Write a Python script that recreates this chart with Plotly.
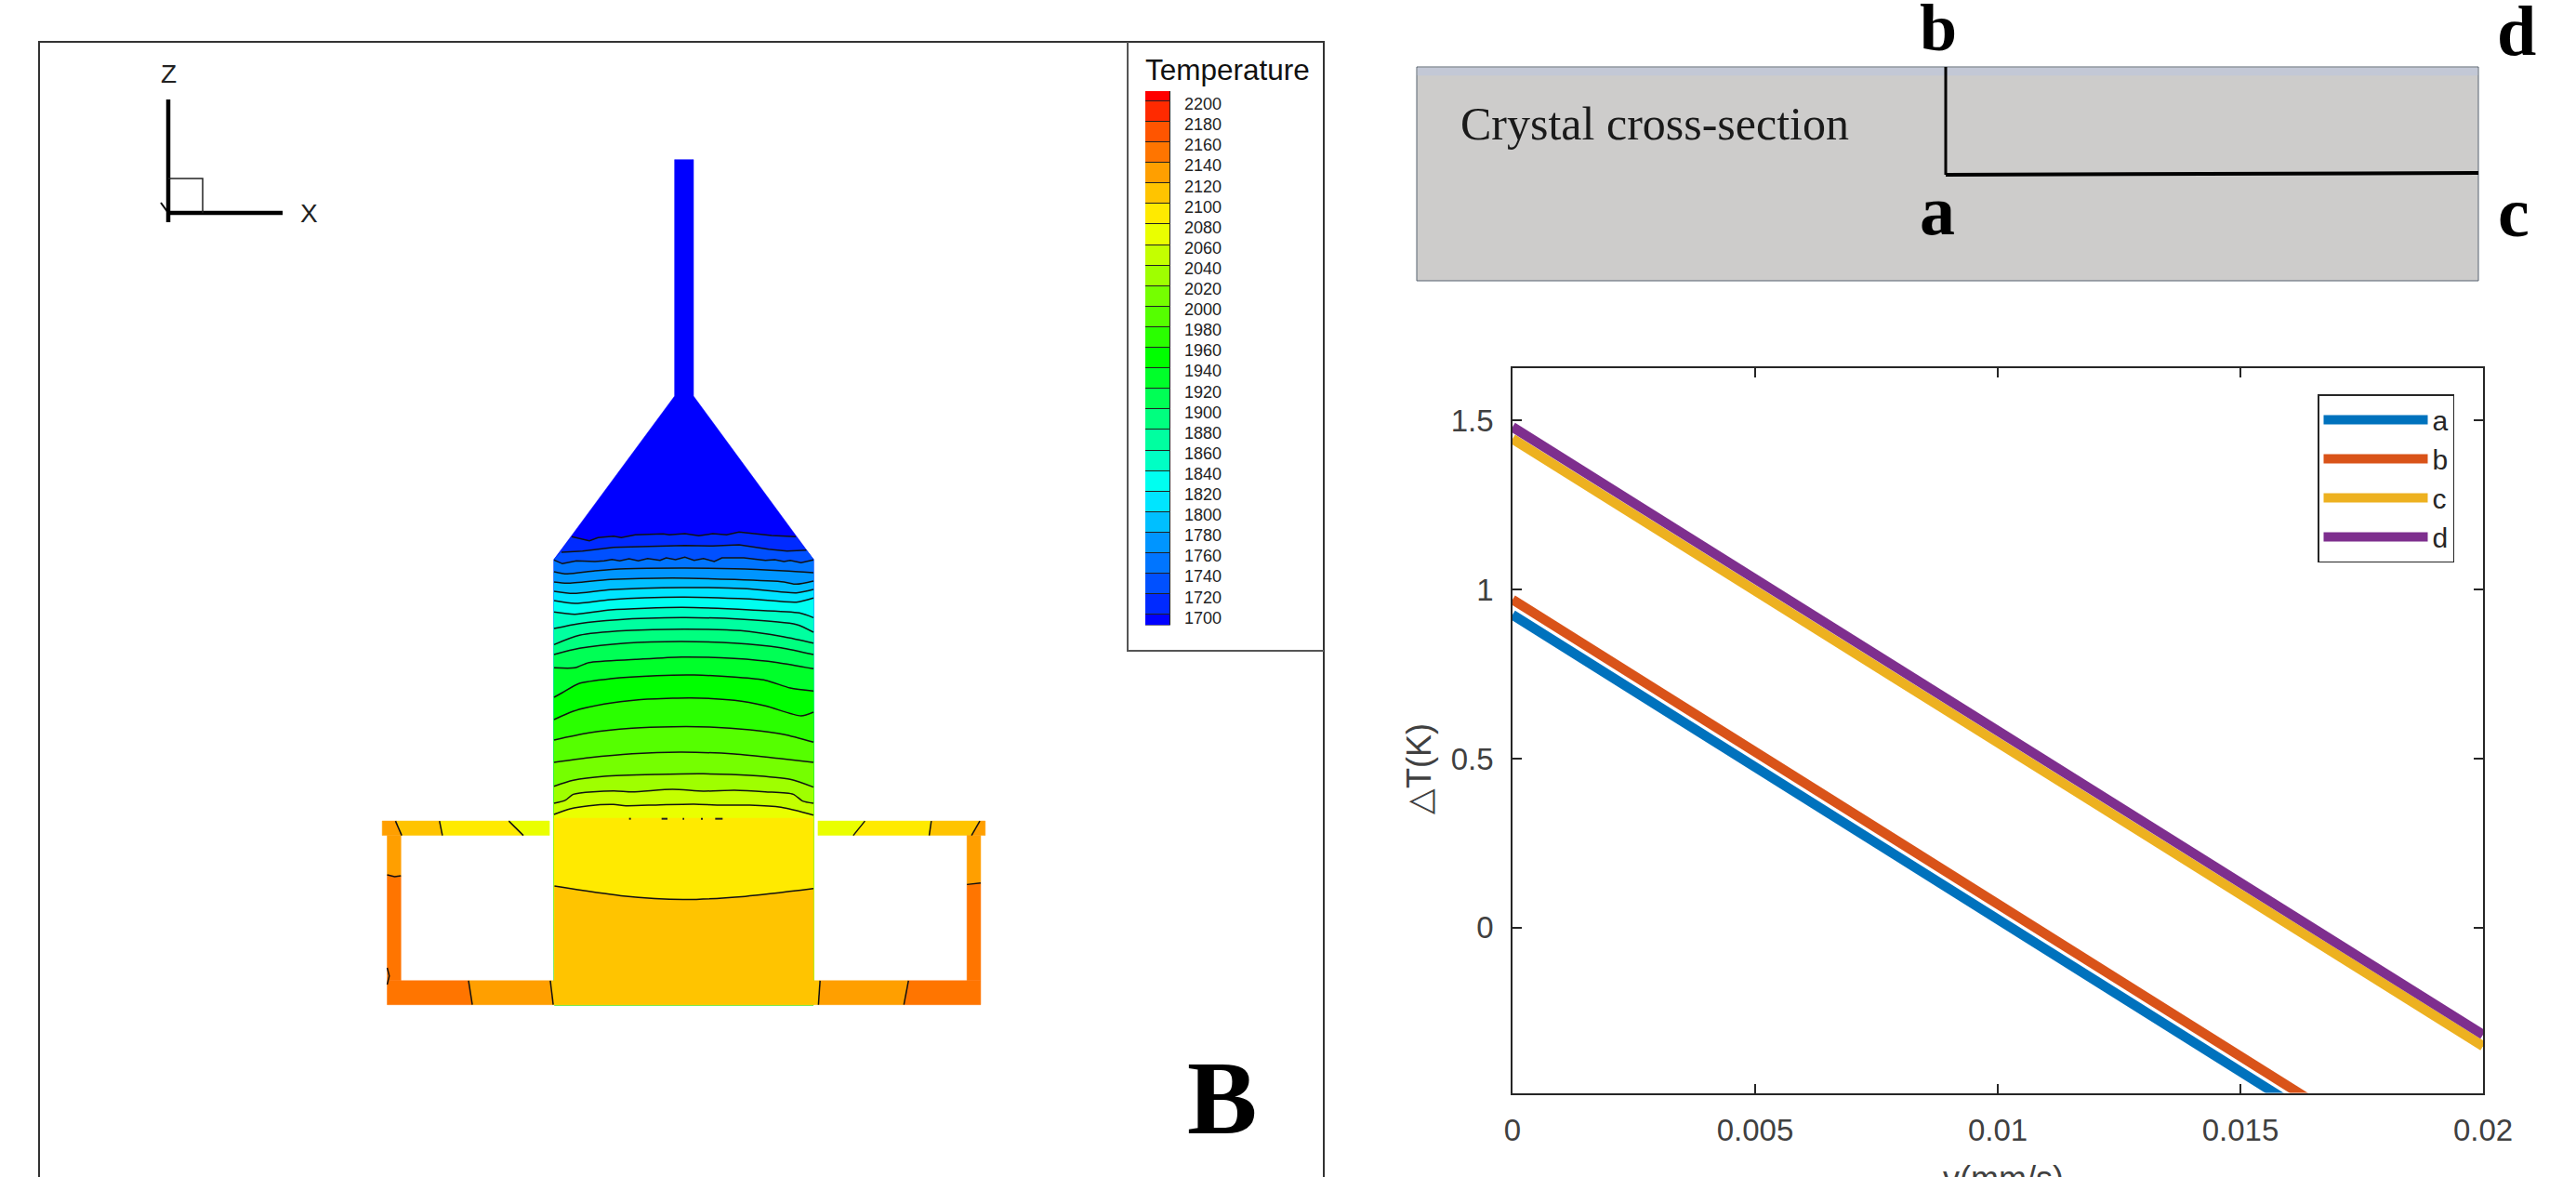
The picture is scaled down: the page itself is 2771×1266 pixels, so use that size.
import plotly.graph_objects as go

W, H = 2771, 1266
FONT = "Liberation Sans"
SERIF = "Liberation Serif"

# ---------- line chart data ----------
V = [0, 0.02]
DT_A = [0.925, -0.875]
DT_B = [0.97, -0.83]
DT_C = [1.445, -0.35]
DT_D = [1.48, -0.316]
SERIES = [("a", DT_A, "#0072BD"), ("b", DT_B, "#D95319"), ("c", DT_C, "#EDB120"), ("d", DT_D, "#7E2F8E")]
V_TICKS = [0, 0.005, 0.01, 0.015, 0.02]
V_LABELS = ["0", "0.005", "0.01", "0.015", "0.02"]
DT_TICKS = [0, 0.5, 1, 1.5]
DT_LABELS = ["0", "0.5", "1", "1.5"]

# ---------- temperature levels ----------
LEVELS = list(range(1700, 2201, 20))
BAND_COLORS = ["#002aff", "#0050ff", "#0075ff", "#0095ff", "#00bfff", "#00e5ff", "#00fff0", "#00ffc4",
               "#00ffa0", "#00ff7f", "#00ff55", "#00ff2a", "#00ff00", "#2aff00", "#55ff00", "#75ff00",
               "#9fff00", "#c4ff00", "#eaff00", "#ffea00", "#ffc400", "#ff9f00", "#ff7500", "#ff5500",
               "#ff2a00"]
BELOW_COLOR = "#0000ff"
ABOVE_COLOR = "#ff0000"

# ---------- isotherms in the crystal (page pixels) ----------
def a(pts):
    return [(560 + x / 3, 150 + y / 3) for x, y in pts]

def b(pts):
    return [(400 + x / 2.24, 560 + y / 2.9) for x, y in pts]

def c1(pts):
    return [(590 + x / 3, 600 + y / 3) for x, y in pts]

def c2(pts):
    return [(590 + x / 3, 740 + y / 3) for x, y in pts]

ISO_1700 = a([(165,1282),(222,1295),(250,1285),(300,1280),(325,1285),(370,1276),(460,1273),(480,1276),(530,1272),(575,1279),(620,1272),(665,1276),(705,1267),(810,1278),(888,1282)])
ISO_1720 = a([(132,1332),(200,1328),(300,1316),(420,1313),(530,1310),(620,1312),(705,1308),(800,1322),(860,1328),(922,1325)])
ISO_1740 = a([(108,1357),(135,1369),(180,1360),(240,1362),(270,1360),(295,1355),(320,1360),(350,1353),(380,1360),(410,1352),(450,1358),(470,1350),(500,1356),(530,1348),(560,1358),(590,1352),(625,1362),(650,1350),(720,1350),(790,1358),(820,1356),(850,1362),(870,1358),(905,1366),(945,1357)])
ISO_1760 = c1([(18,45),(60,52),(150,42),(250,35),(440,33),(600,35),(760,42),(855,48)])
ISO_1780 = c1([(18,78),(60,82),(200,70),(400,65),(600,70),(760,78),(800,85),(855,75)])
ISO_1800 = c1([(18,108),(80,115),(200,103),(430,96),(640,100),(800,113),(855,102)])
ISO_1820 = c1([(18,138),(85,147),(200,135),(430,127),(650,133),(800,143),(855,130)])
ISO_1840 = c1([(18,175),(85,182),(200,168),(430,160),(650,168),(810,178),(855,193)])
ISO_1860 = c1([(18,228),(100,212),(220,200),(430,193),(620,198),(800,215),(855,240)])
ISO_1880 = c1([(18,280),(100,250),(250,235),(440,230),(620,235),(760,255),(855,275)])
ISO_1900 = c1([(18,312),(100,292),(250,275),(430,270),(600,275),(750,290),(855,312)])
ISO_1920 = c1([(18,355),(85,355),(130,338),(280,328),(430,320),(600,325),(740,338),(855,358)])
ISO_1940 = c1([(18,450),(45,435),(100,405),(200,390),(350,380),(470,378),(600,385),(700,395),(780,420),(855,430)])
ISO_1960 = c2([(18,102),(80,75),(180,52),(290,38),(400,33),(460,32),(600,40),(700,58),(815,90),(855,78)])
ISO_1980 = c2([(18,168),(130,145),(270,130),(400,125),(520,126),(650,135),(760,150),(855,175)])
ISO_2000 = c2([(18,240),(130,225),(270,212),(430,207),(600,213),(750,228),(855,240)])
ISO_2020 = c2([(18,317),(80,298),(180,285),(350,279),(500,277),(650,282),(780,295),(855,320)])
ISO_2040 = c2([(18,372),(55,362),(80,343),(210,332),(270,335),(400,327),(500,333),(600,330),(700,335),(790,343),(820,365),(855,372)])
ISO_2060 = c2([(18,408),(70,390),(130,380),(210,376),(250,380),(360,377),(470,375),(550,378),(650,378),(750,385),(855,410)])
ISO_2080 = c2([(18,420),(855,420)])
ISO_2100 = b([(440,1140),(600,1170),(750,1182),(900,1172),(1064,1148)])
ISOTHERMS = [ISO_1700, ISO_1720, ISO_1740, ISO_1760, ISO_1780, ISO_1800, ISO_1820, ISO_1840, ISO_1860, ISO_1880,
             ISO_1900, ISO_1920, ISO_1940, ISO_1960, ISO_1980, ISO_2000, ISO_2020, ISO_2040, ISO_2060, ISO_2080, ISO_2100]
WAVY_LEVELS = [1700, 1720, 1740]

# crystal outline
CRYSTAL = a([(497,65),(558,65),(558,828),(945,1355)]) + b([(1064,1510),(440,1510)]) + a([(108,1355),(497,828)])
SH_R, BOT_R, BOT_L, SH_L = a([(945,1355)])[0], b([(1064,1510)])[0], b([(440,1510)])[0], a([(108,1355)])[0]

# crucible parts: polygon (lower crop) and level band colour
PARTS = [
    ([(25,937),(60,937),(72,982),(25,982)], "#ff9f00"),
    ([(60,937),(165,937),(170,982),(72,982)], "#ffc400"),
    ([(165,937),(330,937),(365,982),(170,982)], "#ffea00"),
    ([(330,937),(428,937),(428,982),(365,982)], "#eaff00"),
    ([(1075,937),(1188,937),(1160,982),(1075,982)], "#eaff00"),
    ([(1188,937),(1348,937),(1343,982),(1160,982)], "#ffea00"),
    ([(1348,937),(1465,937),(1445,982),(1343,982)], "#ffc400"),
    ([(1465,937),(1478,937),(1478,982),(1445,982)], "#ff9f00"),
    ([(37,982),(70,982),(70,1110),(37,1105)], "#ff9f00"),
    ([(37,1105),(70,1110),(70,1435),(37,1435)], "#ff7500"),
    ([(1434,982),(1467,982),(1467,1130),(1434,1135)], "#ff9f00"),
    ([(1434,1135),(1467,1130),(1467,1435),(1434,1435)], "#ff7500"),
    ([(37,1435),(233,1435),(242,1510),(37,1510)], "#ff7500"),
    ([(233,1435),(430,1435),(437,1510),(242,1510)], "#ff9f00"),
    ([(430,1435),(440,1435),(440,1510),(437,1510)], "#ffc400"),
    ([(1064,1435),(1080,1435),(1076,1510),(1064,1510)], "#ffc400"),
    ([(1080,1435),(1293,1435),(1282,1510),(1076,1510)], "#ff9f00"),
    ([(1293,1435),(1467,1435),(1467,1510),(1282,1510)], "#ff7500"),
]
PART_LINES = [
    [(57,937),(72,982)], [(163,937),(170,982)], [(330,937),(365,982)],
    [(1188,937),(1160,982)], [(1348,937),(1343,982)], [(1465,937),(1445,982)],
    [(37,1105),(55,1111),(70,1108)], [(1434,1135),(1467,1130)],
    [(233,1435),(242,1510)], [(430,1435),(437,1510)], [(1080,1435),(1076,1510)], [(1293,1435),(1282,1510)],
    [(37,1395),(42,1420),(37,1447)],
]
BOUNDARY_DASHES = [[(260,422),(266,422)], [(365,422),(384,422)], [(433,422),(438,422)], [(492,422),(498,422)], [(538,422),(562,422)]]

fig = go.Figure()


def poly(pts, color, line=None):
    fig.add_trace(go.Scatter(x=[p[0] for p in pts] + [pts[0][0]], y=[p[1] for p in pts] + [pts[0][1]],
                             mode="lines", fill="toself", fillcolor=color,
                             line=dict(color=line or color, width=1 if line else 0.5),
                             hoverinfo="skip", showlegend=False, xaxis="x", yaxis="y"))


def path(pts, color="#000000", width=1.4, smooth=False):
    ln = dict(color=color, width=width)
    if smooth:
        ln.update(shape="spline", smoothing=0.7)
    fig.add_trace(go.Scatter(x=[p[0] for p in pts], y=[p[1] for p in pts], mode="lines",
                             line=ln, hoverinfo="skip", showlegend=False,
                             xaxis="x", yaxis="y"))


# left panel frame
path([(42, H), (42, 45), (1424, 45), (1424, H)], "#333333", 2)
path([(1213, 45), (1213, 700), (1424, 700)], "#555555", 2)

# crystal with isotherm bands
poly(CRYSTAL, BELOW_COLOR)
for i, iso in enumerate(ISOTHERMS):
    tail = []
    if iso[-1][1] < SH_R[1] - 1:
        tail.append(SH_R)
    tail += [BOT_R, BOT_L]
    if iso[0][1] < SH_L[1] - 1:
        tail.append(SH_L)
    poly(iso + tail, BAND_COLORS[i])
for i, iso in enumerate(ISOTHERMS):
    if LEVELS[i] != 2080:
        path(iso, "#111111", 1.5, smooth=LEVELS[i] not in WAVY_LEVELS)
for d in BOUNDARY_DASHES:
    path(c2(d), "#222222", 2)

for pts, col in PARTS:
    poly(b(pts), col)
for pts in PART_LINES:
    path(b(pts), "#111111", 1.5)

# xyz triad
path([(181, 107), (181, 239)], "#000000", 4.5)
path([(181, 229), (304, 229)], "#000000", 4.5)
path([(181, 192), (218, 192), (218, 229)], "#222222", 1.5)
path([(173, 218), (181, 229)], "#000000", 2)

# schematic
poly([(1524, 72), (2666, 72), (2666, 302), (1524, 302)], "#cdcccb", "#566270")
poly([(1525, 73), (2665, 73), (2665, 81), (1525, 81)], "#c3c8d6")
path([(2093, 72), (2093, 188)], "#000000", 3)
path([(2093, 188), (2666, 186)], "#000000", 4)

# temperature colour bar (own axis)
edges = LEVELS
BAR_TOP, BAR_BOT = 2209.8, 1689.8
fig.add_trace(go.Bar(x=[0] * (len(edges) + 1),
                     base=[BAR_BOT] + edges,
                     y=[edges[0] - BAR_BOT] + [20] * (len(edges) - 1) + [BAR_TOP - edges[-1]],
                     width=1, marker=dict(color=[BELOW_COLOR] + BAND_COLORS + [ABOVE_COLOR],
                                          line=dict(color="#222222", width=1)),
                     hoverinfo="skip", showlegend=False, xaxis="x3", yaxis="y3"))

# line chart
for name, vals, col in SERIES:
    fig.add_trace(go.Scatter(x=V, y=vals, name=name, mode="lines", line=dict(color=col, width=10.5),
                             xaxis="x2", yaxis="y2"))


def txt(x, y, s, size, font=FONT, color="#000000", bold=False, angle=0, yanchor="middle"):
    fig.add_annotation(x=x, y=y, xref="x", yref="y", text=f"<b>{s}</b>" if bold else s, showarrow=False,
                       xanchor="center", yanchor=yanchor, textangle=angle,
                       font=dict(family=font, size=size, color=color))


txt(181, 79, "Z", 28, color="#222222")
txt(332, 229, "X", 28, color="#222222")
txt(1320, 75, "Temperature", 31.5, color="#111111")
txt(1314, 1180, "B", 113, SERIF, bold=True)
txt(1780, 133, "Crystal cross-section", 50, SERIF, "#1a1a1a")
txt(2085, 30, "b", 72, SERIF, bold=True)
txt(2707, 33, "d", 76, SERIF, bold=True)
txt(2084, 226, "a", 76, SERIF, bold=True)
txt(2704, 228, "c", 76, SERIF, bold=True)
txt(1526, 827, "△T(K)", 36, color="#404040", angle=-90)
txt(2155, 1245, "v(mm/s)", 36, color="#404040", yanchor="top")

PX, PR, PT, PB = 1627, 2671, 396, 1175.5
fig.update_layout(
    width=W, height=H, autosize=False, margin=dict(l=0, r=0, t=0, b=0, pad=0),
    paper_bgcolor="white", plot_bgcolor="rgba(0,0,0,0)", barmode="overlay", bargap=0,
    font=dict(family=FONT, color="#404040"),
    xaxis=dict(domain=[0, 1], range=[0, W], visible=False, fixedrange=True),
    yaxis=dict(domain=[0, 1], range=[H, 0], visible=False, fixedrange=True),
    xaxis2=dict(domain=[PX / W, PR / W], range=[0, 0.02], anchor="y2", tickvals=V_TICKS, ticktext=V_LABELS,
                ticks="inside", ticklen=10, tickwidth=1.5, tickcolor="#262626", showline=True, linecolor="#262626",
                linewidth=1.5, mirror="ticks", showgrid=False, zeroline=False, ticklabelstandoff=10,
                tickfont=dict(size=33, color="#404040", family=FONT), automargin=False),
    yaxis2=dict(domain=[1 - PB / H, 1 - PT / H], range=[-0.488, 1.654], anchor="x2", tickvals=DT_TICKS,
                ticktext=DT_LABELS, ticks="inside", ticklen=10, tickwidth=1.5, tickcolor="#262626", showline=True,
                linecolor="#262626", linewidth=1.5, mirror="ticks", showgrid=False, zeroline=False,
                ticklabelstandoff=12, tickfont=dict(size=33, color="#404040", family=FONT), automargin=False),
    xaxis3=dict(domain=[1232 / W, 1259 / W], range=[-0.5, 0.5], anchor="y3", visible=False, fixedrange=True),
    yaxis3=dict(domain=[1 - 672.6 / H, 1 - 98 / H], range=[BAR_BOT, BAR_TOP], anchor="x3", side="right",
                tickvals=LEVELS, ticks="", showgrid=False, zeroline=False, showline=False, ticklabelstandoff=14,
                ticklabelshift=3, tickfont=dict(size=18, color="#222222", family=FONT), automargin=False,
                fixedrange=True),
    legend=dict(x=2493 / W, y=1 - 424 / H, xanchor="left", yanchor="top", bgcolor="white", bordercolor="#262626",
                borderwidth=1.5, itemwidth=112, font=dict(size=30, color="#262626", family=FONT),
                tracegroupgap=0),
    showlegend=True,
)
fig.write_html("out.html", config={"displayModeBar": False},
               post_script="document.body.style.margin='0';document.body.style.overflow='hidden';")
